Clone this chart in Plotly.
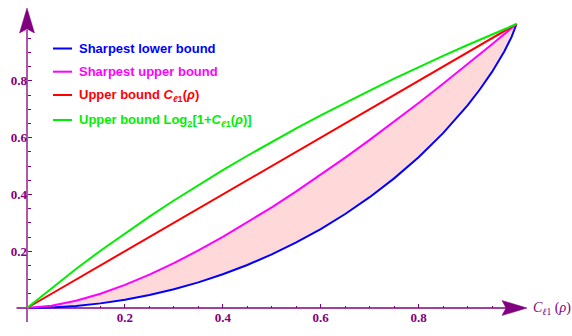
import plotly.graph_objects as go

W, H = 572, 336
PURPLE = "#800080"

# ---------------- data ----------------
lower_x = [0, 0.05, 0.1, 0.15, 0.2, 0.25, 0.3, 0.35, 0.4, 0.45, 0.5, 0.55, 0.6,
           0.65, 0.7, 0.75, 0.8, 0.85, 0.9, 0.925, 0.95, 0.975, 0.99, 0.995, 1.0]
lower_y = [0, 0.0018, 0.0072, 0.0163, 0.0291, 0.0456, 0.0659, 0.0903, 0.1187,
           0.1515, 0.1887, 0.2308, 0.2781, 0.3310, 0.3902, 0.4564, 0.5310, 0.6157,
           0.7136, 0.7693, 0.8313, 0.9031, 0.9546, 0.9748, 1.0]

upper_x = [0, 0.05, 0.1, 0.15, 0.2, 0.25, 0.3, 0.35, 0.4, 0.45, 0.5, 0.55, 0.6,
           0.65, 0.7, 0.75, 0.8, 0.85, 0.9, 0.95, 1.0]
upper_y = [0, 0.0076, 0.0253, 0.0504, 0.0815, 0.1176, 0.1581, 0.2025, 0.2502,
           0.3010, 0.3546, 0.4107, 0.4690, 0.5295, 0.5919, 0.6561, 0.7219, 0.7894,
           0.8583, 0.9285, 1.0]

cl1_x = [0, 0.25, 0.5, 0.75, 1.0]
cl1_y = [0, 0.25, 0.5, 0.75, 1.0]

log_x = [0, 0.05, 0.1, 0.15, 0.2, 0.25, 0.3, 0.35, 0.4, 0.45, 0.5, 0.55, 0.6,
         0.65, 0.7, 0.75, 0.8, 0.85, 0.9, 0.95, 1.0]
log_y = [0, 0.0704, 0.1375, 0.2016, 0.2630, 0.3219, 0.3785, 0.4330, 0.4854,
         0.5361, 0.5850, 0.6323, 0.6781, 0.7225, 0.7655, 0.8074, 0.8480, 0.8875,
         0.9260, 0.9635, 1.0]

x_tick_vals = [0.2, 0.4, 0.6, 0.8]
y_tick_vals = [0.2, 0.4, 0.6, 0.8]
minor_vals = [0.05, 0.1, 0.15, 0.25, 0.3, 0.35, 0.45, 0.5, 0.55, 0.65, 0.7, 0.75,
              0.85, 0.9, 0.95]

legend_names = [
    "Sharpest lower bound",
    "Sharpest upper bound",
    "Upper bound <i>C</i><sub><i>ℓ</i>1</sub>(<i>ρ</i>)",
    "Upper bound Log<sub>2</sub>[1+<i>C</i><sub><i>ℓ</i>1</sub>(<i>ρ</i>)]",
]
colors = ["#0000ff", "#ff00ff", "#ff0000", "#00ee00"]

# ---------------- geometry ----------------
X0_PX, X1_PX = 27.0, 516.5   # pixel of x=0 and x=1
Y0_PX, Y1_PX = 308.0, 24.0   # pixel of y=0 and y=1
sx = X1_PX - X0_PX
sy = Y0_PX - Y1_PX
xr = [-X0_PX / sx, (W - X0_PX) / sx]
yr = [-(H - Y0_PX) / sy, Y0_PX / sy]


def dx(px):
    return (px - X0_PX) / sx


def dy(py):
    return (Y0_PX - py) / sy


def px_paper(px):
    return px / W


def py_paper(py):
    return 1 - py / H


fig = go.Figure()
fig.add_trace(go.Scatter(x=lower_x, y=lower_y, mode="lines",
                         line=dict(color=colors[0], width=2), showlegend=False))
fig.add_trace(go.Scatter(x=upper_x, y=upper_y, mode="lines", fill="tonexty",
                         fillcolor="#ffd9d9",
                         line=dict(color=colors[1], width=2), showlegend=False))
fig.add_trace(go.Scatter(x=cl1_x, y=cl1_y, mode="lines",
                         line=dict(color=colors[2], width=2), showlegend=False))
fig.add_trace(go.Scatter(x=log_x, y=log_y, mode="lines",
                         line=dict(color=colors[3], width=2), showlegend=False))

tickfont = dict(family="Liberation Serif", size=13, color=PURPLE, weight="bold")

fig.update_layout(
    width=W, height=H,
    margin=dict(l=0, r=0, t=0, b=0, autoexpand=False),
    paper_bgcolor="white", plot_bgcolor="white",
    xaxis=dict(range=xr, anchor="free", position=(H - Y0_PX) / H, automargin=False,
               showgrid=False, zeroline=False, showline=False,
               tickmode="array", tickvals=x_tick_vals,
               ticktext=[str(v) for v in x_tick_vals],
               ticks="inside", ticklen=4, tickwidth=1, tickcolor=PURPLE,
               tickfont=tickfont,
               minor=dict(tickmode="array", tickvals=minor_vals, ticks="inside",
                          ticklen=2.5, tickwidth=1, tickcolor=PURPLE)),
    yaxis=dict(range=yr, anchor="free", position=X0_PX / W, automargin=False,
               showgrid=False, zeroline=False, showline=False,
               tickmode="array", tickvals=y_tick_vals,
               ticktext=[str(v) for v in y_tick_vals],
               ticks="inside", ticklen=4, tickwidth=1, tickcolor=PURPLE,
               tickfont=tickfont,
               minor=dict(tickmode="array", tickvals=minor_vals, ticks="inside",
                          ticklen=2.5, tickwidth=1, tickcolor=PURPLE)),
)

shapes = []
# axis lines
shapes.append(dict(type="line", xref="x", yref="y", x0=dx(16.5), x1=dx(506), y0=0, y1=0,
                   line=dict(color=PURPLE, width=1.3), layer="below"))
shapes.append(dict(type="line", xref="x", yref="y", x0=0, x1=0, y0=dy(322), y1=dy(30),
                   line=dict(color=PURPLE, width=1.3), layer="below"))
# arrowheads
ax_path = "M {} {} L {} {} L {} {} L {} {} Z".format(
    dx(527), dy(Y0_PX), dx(502), dy(Y0_PX - 7.5), dx(506), dy(Y0_PX),
    dx(502), dy(Y0_PX + 7.5))
shapes.append(dict(type="path", xref="x", yref="y", path=ax_path,
                   fillcolor=PURPLE, line=dict(color=PURPLE, width=0.5)))
ay_path = "M {} {} L {} {} L {} {} L {} {} Z".format(
    0, dy(8), dx(X0_PX - 7.5), dy(33), 0, dy(29), dx(X0_PX + 7.5), dy(33))
shapes.append(dict(type="path", xref="x", yref="y", path=ay_path,
                   fillcolor=PURPLE, line=dict(color=PURPLE, width=0.5)))

# legend
rows_py = [48.5, 71.7, 95.0, 120.0]
annotations = []
for name, col, ry in zip(legend_names, colors, rows_py):
    shapes.append(dict(type="line", xref="paper", yref="paper",
                       x0=px_paper(53), x1=px_paper(72),
                       y0=py_paper(ry), y1=py_paper(ry),
                       line=dict(color=col, width=2)))
    annotations.append(dict(xref="paper", yref="paper", x=px_paper(77), y=py_paper(ry),
                            xanchor="left", yanchor="middle", showarrow=False,
                            text="<b>" + name + "</b>",
                            font=dict(family="Liberation Sans", size=13, color=col)))

# axis labels
annotations.append(dict(xref="paper", yref="paper", x=px_paper(531), y=py_paper(308),
                        xanchor="left", yanchor="middle", showarrow=False,
                        text="<i>C</i><sub><i>ℓ</i>1</sub> (<i>ρ</i>)",
                        font=dict(family="Liberation Serif", size=14, color=PURPLE)))
annotations.append(dict(xref="paper", yref="paper", x=px_paper(68), y=py_paper(3),
                        xanchor="right", yanchor="bottom", showarrow=False,
                        text="<i>C</i><sub><i>r</i></sub>(<i>ρ</i>)",
                        font=dict(family="Liberation Serif", size=14, color=PURPLE)))

fig.update_layout(shapes=shapes, annotations=annotations)
fig.write_html("out.html", config={"displayModeBar": False},
               post_script="document.body.style.margin='0px';")
